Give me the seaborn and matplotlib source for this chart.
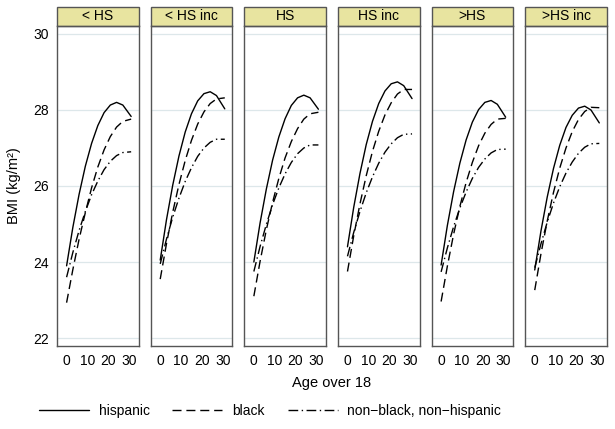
import numpy as np
import pandas as pd
import matplotlib
matplotlib.use("Agg")
import matplotlib.pyplot as plt
from matplotlib.patches import Rectangle
from matplotlib.lines import Line2D
import seaborn as sns

# facets (education / income groups) and the three ethnic groups
panels = ['< HS', '< HS inc', 'HS', 'HS inc', '>HS', '>HS inc']
groups = ['hispanic', 'black', 'non\u2212black, non\u2212hispanic']
ages = [0, 3, 6, 9, 12, 15, 18, 21, 24, 27, 31]

# BMI, one row per panel
hispanic_bmi = [
    [23.90, 24.91, 25.78, 26.52, 27.12, 27.59, 27.93, 28.13, 28.20, 28.13, 27.83],
    [24.05, 25.11, 26.02, 26.79, 27.42, 27.90, 28.24, 28.43, 28.48, 28.38, 28.03],
    [24.00, 25.03, 25.92, 26.68, 27.29, 27.77, 28.12, 28.32, 28.39, 28.32, 28.02],
    [24.40, 25.44, 26.33, 27.09, 27.70, 28.17, 28.50, 28.69, 28.74, 28.64, 28.30],
    [23.92, 24.96, 25.85, 26.60, 27.21, 27.68, 28.01, 28.20, 28.25, 28.15, 27.81],
    [23.79, 24.82, 25.71, 26.46, 27.07, 27.54, 27.86, 28.05, 28.10, 28.00, 27.66],
]
black_bmi = [
    [22.93, 23.80, 24.60, 25.30, 25.95, 26.50, 26.95, 27.30, 27.55, 27.70, 27.76],
    [23.55, 24.48, 25.31, 26.04, 26.67, 27.20, 27.63, 27.95, 28.17, 28.29, 28.32],
    [23.10, 24.02, 24.85, 25.57, 26.20, 26.74, 27.17, 27.51, 27.76, 27.90, 27.94],
    [23.75, 24.69, 25.53, 26.27, 26.91, 27.44, 27.87, 28.19, 28.42, 28.54, 28.54],
    [22.96, 23.89, 24.73, 25.46, 26.09, 26.62, 27.06, 27.39, 27.62, 27.76, 27.78],
    [23.26, 24.22, 25.08, 25.83, 26.47, 27.00, 27.43, 27.75, 27.96, 28.07, 28.06],
]
other_bmi = [
    [23.60, 24.25, 24.83, 25.33, 25.77, 26.13, 26.43, 26.65, 26.80, 26.88, 26.90],
    [23.95, 24.60, 25.18, 25.68, 26.12, 26.48, 26.78, 27.00, 27.15, 27.23, 27.23],
    [23.75, 24.41, 24.99, 25.51, 25.95, 26.32, 26.62, 26.85, 27.00, 27.08, 27.08],
    [24.15, 24.78, 25.33, 25.82, 26.24, 26.60, 26.89, 27.11, 27.27, 27.36, 27.37],
    [23.74, 24.37, 24.93, 25.42, 25.84, 26.20, 26.49, 26.71, 26.87, 26.96, 26.97],
    [23.85, 24.48, 25.05, 25.55, 25.98, 26.34, 26.63, 26.86, 27.02, 27.11, 27.12],
]

rows = []
for g, series in zip(groups, [hispanic_bmi, black_bmi, other_bmi]):
    for p, vals in zip(panels, series):
        for a, v in zip(ages, vals):
            rows.append({'panel': p, 'group': g, 'age': a, 'bmi': v})
df = pd.DataFrame(rows)

sns.set_style("white")
plt.rcParams['font.family'] = ['Liberation Sans', 'DejaVu Sans']
plt.rcParams['text.color'] = 'black'
plt.rcParams['xtick.color'] = 'black'
plt.rcParams['ytick.color'] = 'black'

dash_solid = ''
dash_long = (6.5, 3.5)
dash_dot = (7, 2.5, 1, 2.5)
dash_map = {groups[0]: dash_solid, groups[1]: dash_long, groups[2]: dash_dot}
frame_col = '#555555'
grid_col = '#dde7ea'
strip_col = '#e8e4a0'
line_w = 1.0

fig, axes = plt.subplots(1, 6, figsize=(6.15, 4.29), dpi=100, sharey=True)
fig.subplots_adjust(left=0.0927, right=0.987, top=0.9394, bottom=0.1935, wspace=0.144)

strip_h = 19 / 320
for i, (ax, p) in enumerate(zip(axes, panels)):
    sub = df[df['panel'] == p]
    sns.lineplot(data=sub, x='age', y='bmi', style='group', style_order=groups,
                 dashes=dash_map, color='black', lw=line_w, legend=False, ax=ax)
    ax.set_xlim(-4.6, 34.7)
    ax.set_ylim(21.79, 30.21)
    ax.set_xticks([0, 10, 20, 30])
    ax.set_yticks([22, 24, 26, 28, 30])
    ax.set_xlabel('')
    ax.set_ylabel('')
    ax.grid(axis='y', color=grid_col, lw=0.9)
    ax.set_axisbelow(True)
    for s in ax.spines.values():
        s.set_color(frame_col)
        s.set_linewidth(1.0)
    ax.tick_params(axis='x', length=4, width=0.8, color=frame_col, labelsize=10, pad=2)
    if i == 0:
        ax.tick_params(axis='y', length=4, width=0.8, color=frame_col, labelsize=10, pad=2)
    else:
        ax.tick_params(axis='y', left=False, labelleft=False)
    ax.add_patch(Rectangle((0, 1), 1, strip_h, transform=ax.transAxes, clip_on=False,
                           facecolor=strip_col, edgecolor=frame_col, lw=1.0))
    ax.text(0.5, 1 + strip_h / 2, p, transform=ax.transAxes, ha='center', va='center',
            fontsize=10)

fig.text(0.022, (0.1935 + 0.9394) / 2, 'BMI (kg/m\u00b2)', rotation=90,
         ha='center', va='center', fontsize=10.5)
fig.text(332 / 615, 1 - 383 / 429, 'Age over 18', ha='center', va='center', fontsize=10.5)

handles = [Line2D([], [], color='black', lw=line_w, linestyle='-'),
           Line2D([], [], color='black', lw=line_w, dashes=dash_long),
           Line2D([], [], color='black', lw=line_w, dashes=dash_dot)]
fig.legend(handles, groups, loc='center', bbox_to_anchor=(270 / 615, 1 - 411 / 429),
           ncol=3, frameon=False, fontsize=10, handlelength=3.6, handletextpad=0.7,
           columnspacing=1.65)

fig.savefig('out.png', dpi=100)
